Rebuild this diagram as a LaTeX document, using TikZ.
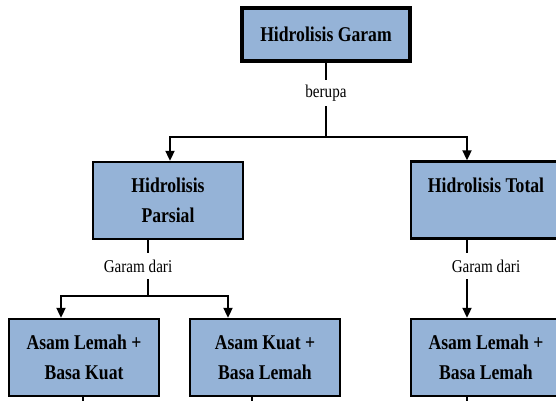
\documentclass[tikz,border=0pt]{standalone}
\usepackage{fontspec}
\setmainfont{Liberation Serif}[FakeStretch=0.84]
\usetikzlibrary{arrows.meta,calc}
\definecolor{boxblue}{HTML}{95B3D7}
\begin{document}
\begin{tikzpicture}[x=1pt,y=-1pt,
  box/.style={draw=black,fill=boxblue,line width=2.4pt,minimum width=150pt,minimum height=77pt,align=center,font=\bfseries\fontsize{21}{30}\selectfont,inner sep=0pt},
  conn/.style={line width=2pt},
  arr/.style={conn,-{Triangle[width=9pt,length=10pt]}},
  lbl/.style={fill=white,font=\fontsize{18}{20}\selectfont,inner xsep=2pt,minimum height=26pt}]
\useasboundingbox (0,0) rectangle (556,400);
\fill[white] (0,0) rectangle (556,400);
% boxes
\node[box,line width=3.5pt,minimum width=168pt,minimum height=53pt] (top) at (326,34.5) {Hidrolisis Garam};
\node[box] (parsial) at (168,200.5) {Hidrolisis\\Parsial};
\node[box] (total) at (486,200) {Hidrolisis Total\\\mbox{}};
\node[box] (alkb) at (84,357.5) {Asam Lemah +\\Basa Kuat};
\node[box] (akbl) at (265,357.5) {Asam Kuat +\\Basa Lemah};
\node[box] (albl) at (486,357.5) {Asam Lemah +\\Basa Lemah};
% top level
\coordinate (j1) at (326,137);
\draw[conn] (top.south) -- (j1);
\draw[arr] (j1) -| ([xshift=2pt]parsial.north);
\draw[arr] (j1) -| ([xshift=-19pt]total.north);
\node[lbl] (berupa) at (326,93) {berupa};
% parsial
\coordinate (j2) at (148,296);
\draw[conn] ([xshift=-20pt]parsial.south) -- (j2);
\draw[arr] (j2) -| ([xshift=-23pt]alkb.north);
\draw[arr] (j2) -| ([xshift=-37pt]akbl.north);
\node[lbl] (gd1) at (138,266) {Garam dari};
% total
\draw[arr] ([xshift=-19pt]total.south) -- ([xshift=-19pt]albl.north);
\node[lbl] (gd2) at (486,266) {Garam dari};
% stubs
\coordinate (s1) at (83,402);
\coordinate (s2) at (252,402);
\coordinate (s3) at (467,402);
\draw[conn] ([xshift=-1pt]alkb.south) -- (s1);
\draw[conn] ([xshift=-13pt]akbl.south) -- (s2);
\draw[conn] ([xshift=-19pt]albl.south) -- (s3);
\end{tikzpicture}
\end{document}
